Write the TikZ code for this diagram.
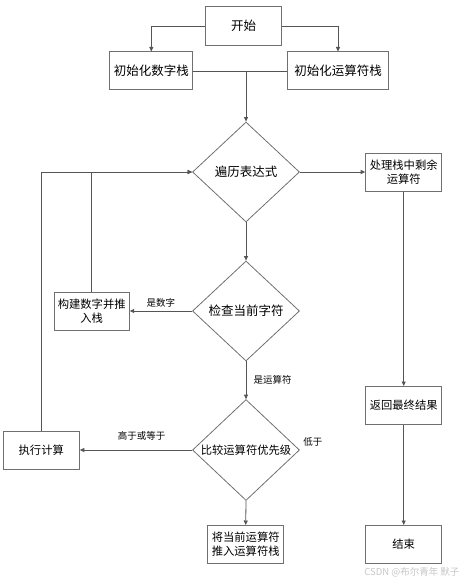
\documentclass[tikz,border=0pt]{standalone}
\usepackage{fontspec}
\setmainfont{Noto Sans CJK SC}
\usetikzlibrary{shapes.geometric,arrows.meta}
\definecolor{linegray}{HTML}{555555}
\definecolor{boxgray}{HTML}{707070}
\newcommand{\bigtext}{\fontsize{12.5}{15}\selectfont}
\newcommand{\midtext}{\fontsize{11.3}{14}\selectfont}
\begin{document}
\begin{tikzpicture}[x=1pt,y=-1pt,
  box/.style={draw=boxgray,line width=1pt,minimum width=76pt,minimum height=38pt,inner sep=1pt,align=center,font=\midtext},
  decide/.style={diamond,draw=boxgray,line width=0.8pt,minimum width=107pt,minimum height=100pt,inner sep=0pt,font=\bigtext},
  flow/.style={draw=linegray,line width=0.8pt,-{Triangle[length=4.5pt,width=4pt]}},
  lbl/.style={font=\fontsize{9.5}{11}\selectfont}]
\useasboundingbox (0,0) rectangle (467,583);
\node[box,minimum height=39pt,font=\bigtext] (start) at (243.7,26) {开始};
\node[box,minimum width=83pt,font=\bigtext] (numinit) at (151.3,71) {初始化数字栈};
\node[box,minimum width=101pt,font=\bigtext] (opinit) at (338,71) {初始化运算符栈};
\node[decide] (scan) at (246,172) {遍历表达式};
\node[box] (rest) at (403.7,172) {处理栈中剩余\\运算符};
\node[box] (ret) at (403.7,405.5) {返回最终结果};
\node[box] (end) at (403.7,544.5) {结束};
\node[decide] (check) at (246,311) {检查当前字符};
\node[box,minimum width=75pt] (num) at (91.7,311) {构建数字并推\\入栈};
\node[decide,font=\midtext] (cmp) at (246,450) {比较运算符优先级};
\node[box] (calc) at (41.3,450) {执行计算};
\node[box] (push) at (245.7,544.5) {将当前运算符\\推入运算符栈};
\node[lbl,above right] (low) at (cmp.east) {低于};
\node[lbl,text=gray!45,anchor=east] (mark) at (463,572) {CSDN @布尔青年 默子};
\coordinate (join) at (scan.north |- numinit.east);
\draw[flow] (start.west) -| (numinit.north);
\draw[flow] (start.east) -| (opinit.north);
\draw[linegray,line width=0.8pt] (numinit.east) -- (opinit.west);
\draw[flow] (join) -- (scan.north);
\draw[flow] (scan.east) -- (rest.west);
\draw[flow] (rest.south) -- (ret.north);
\draw[flow] (ret.south) -- (end.north);
\draw[flow] (scan.south) -- (check.north);
\draw[flow] (check.west) -- node[lbl,above] {是数字} (num.east);
\draw[flow] (num.north) |- (scan.west);
\draw[flow] (check.south) -- node[lbl,right=4pt] {是运算符} (cmp.north);
\draw[flow] (cmp.west) -- node[lbl,above=6pt,pos=0.45] {高于或等于} (calc.east);
\draw[flow] (calc.north) |- (scan.west);
\draw[flow] (cmp.south) -- (push.north);
\end{tikzpicture}
\end{document}
